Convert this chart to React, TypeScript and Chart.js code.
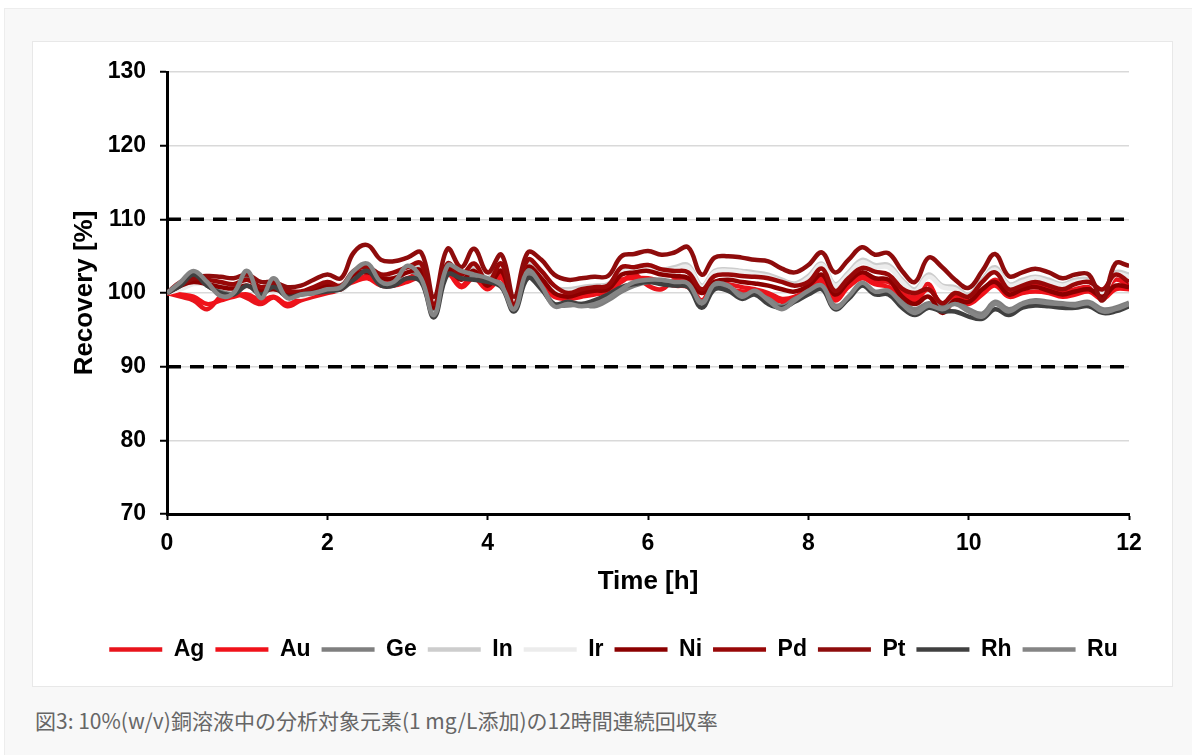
import React, { useEffect, useRef } from "react";
import { Chart, registerables } from "chart.js";

Chart.register(...registerables);

const times = [
  0, 0.17, 0.33, 0.5, 0.67, 0.83,
  1, 1.17, 1.33, 1.5, 1.67, 1.83,
  2, 2.17, 2.33, 2.5, 2.67, 2.83,
  3, 3.17, 3.33, 3.5, 3.67, 3.83,
  4, 4.17, 4.33, 4.5, 4.67, 4.83,
  5, 5.17, 5.33, 5.5, 5.67, 5.83,
  6, 6.17, 6.33, 6.5, 6.67, 6.83,
  7, 7.17, 7.33, 7.5, 7.67, 7.83,
  8, 8.17, 8.33, 8.5, 8.67, 8.83,
  9, 9.17, 9.33, 9.5, 9.67, 9.83,
  10, 10.17, 10.33, 10.5, 10.67, 10.83,
  11, 11.17, 11.33, 11.5, 11.67, 11.83,
  12,
];

const ag = [
  100, 99.5, 99, 97.8, 99.5, 100,
  99.3, 98.5, 99.4, 98.2, 99, 99.5,
  100, 100.5, 102, 102.5, 101.5, 101.5,
  102, 102.5, 98.5, 102.8, 101, 102.5,
  101, 102.5, 98.2, 103, 101.5, 100,
  99.5, 99.8, 100, 100.3, 101.5, 102.5,
  101, 100.5, 101.8, 101.5, 99, 101.5,
  101.2, 100.8, 100.5, 100, 99.2, 99.5,
  100.5, 102, 99.5, 101.2, 102.5, 101.5,
  101.5, 100, 99.5, 101.2, 97.8, 99.5,
  99, 100.2, 101.8, 100.2, 100.5, 101,
  100.5, 100, 100.5, 100.8, 100, 101.8,
  101,
];
const au = [
  100, 99.8, 99.5, 98.5, 99, 99.5,
  99.8, 99, 99.5, 98.5, 99.3, 99.8,
  100.3, 100.8, 101.5, 102, 101, 101,
  101.5, 102, 99, 102.5, 100.8, 102,
  100.5, 102, 98.5, 102.5, 101, 99.5,
  99.2, 99.5, 99.8, 100.2, 101.8, 102,
  102, 101.5, 101, 100.8, 98.8, 100.8,
  100.5, 100.2, 100, 99.5, 98.8, 99,
  100, 101.5, 99, 100.8, 102, 101.2,
  100.8, 99.5, 99, 100.5, 98.5, 99.2,
  98.5, 99.8, 101, 99.5, 100, 100.2,
  100, 99.5, 99.8, 100.2, 99.2, 100.5,
  100.5,
];
const ge = [
  100, 101.2, 102.5, 101, 100.2, 100.3,
  102, 99.8, 101.2, 99.8, 100, 100.2,
  100.8, 101, 102.3, 103.3, 101.2, 101.2,
  103, 101.8, 97.8, 103, 102.5, 102.2,
  101.8, 101.2, 98, 102.5, 100.8, 98.5,
  98.3, 98.5, 98.2, 99, 100.2, 101,
  101.5, 101.5, 101.2, 101, 98.8, 100.8,
  100.8, 99.8, 100, 99.2, 98.2, 99.2,
  100, 100.8, 98.3, 99.2, 101, 100,
  100, 98.8, 97.8, 98.6, 98.2, 98.8,
  97.8, 97.2, 98.8, 97.8, 98.6, 99,
  98.8, 98.6, 98.5, 98.8, 97.8, 98,
  98.7,
];
const inn = [
  100, 100.8, 101.5, 101.5, 101, 100.8,
  101.5, 100.5, 100.8, 100, 99.8, 100.3,
  100.8, 100.5, 102.5, 103.5, 102.5, 102.5,
  103.5, 103.5, 98.5, 104, 102.5, 103.5,
  102, 103.5, 98.8, 104, 102.5, 100.8,
  100.5, 100.8, 101, 101.2, 103, 103.5,
  103.8, 103.2, 103.5, 103.8, 101, 103,
  103.2, 103, 102.8, 102.5, 101.8, 101.3,
  102.3, 104, 101.2, 102.8, 104.5, 103.8,
  103.8, 101.8, 100.5, 102.5, 101, 100.8,
  99.8, 101.8, 103.5, 101.2, 101.8, 102.2,
  101.8, 101.2, 101.8, 101.8, 100.2, 102.8,
  102.5,
];
const ir = [
  100, 100.5, 101.2, 101.2, 100.8, 100.5,
  101.2, 100.2, 100.5, 99.8, 99.5, 100,
  100.5, 100.3, 102, 103, 102.2, 102.2,
  103, 103, 98.8, 103.5, 102.2, 103,
  101.8, 103.2, 99, 103.5, 102.2, 100.5,
  100.2, 100.5, 100.8, 101, 102.8, 103,
  103.5, 103, 103.2, 103.5, 100.8, 102.8,
  103, 102.8, 102.5, 102.2, 101.5, 101,
  102, 103.8, 101, 102.5, 104.2, 103.5,
  103.5, 101.5, 100.2, 102.2, 100.8, 100.5,
  99.5, 101.5, 103.2, 101, 101.5, 102,
  101.5, 101, 101.5, 101.5, 100, 102.5,
  102.2,
];
const ni = [
  100, 101, 101.5, 101.2, 100.8, 100.6,
  101, 100.3, 100.5, 100, 100, 100.5,
  101, 100.5, 102.5, 102.8, 102, 102,
  102.8, 103, 98, 103.2, 101.8, 103,
  101, 103, 98.2, 103.5, 102, 100,
  99.5, 100, 100.3, 100.5, 102.5, 102.8,
  103, 102.5, 102.3, 102, 100, 101.5,
  101.8, 101.5, 101.3, 101, 100.5, 100.2,
  101, 102.5, 99.8, 101.5, 102.8, 102,
  101.8, 99.5, 98.5, 99.5, 97.3, 99,
  98.8, 100.5, 101.5, 99.8, 100.5, 100.8,
  100.3, 99.8, 100.2, 100.5, 99.5, 101,
  100.8,
];
const pd = [
  100, 101.5, 102, 101.8, 101.5, 101.2,
  101.8, 100.8, 101, 100.3, 100.2, 100.8,
  101.5, 101, 103, 103.5, 102.5, 102.8,
  103.5, 104, 98.5, 104, 102.5, 104,
  101.5, 104, 98.5, 104.5, 103, 101,
  100, 100.5, 100.8, 101, 103.5, 103.5,
  103.8, 103.2, 103, 102.8, 100.5, 102.3,
  102.5, 102.3, 102.2, 102, 101.5, 101,
  101.5, 103.3, 100.3, 102, 103.4, 102.9,
  102.5, 100.6, 100, 100.5, 98.6, 100,
  99.5, 101.5, 102.8, 100.5, 101, 101.5,
  101, 100.5, 101.2, 101.5, 100.5, 102.5,
  101.5,
];
const pt = [
  100, 101, 102, 102.3, 102.2, 102,
  102.5, 101.5, 101.5, 100.8, 101, 101.8,
  102.5, 102, 105.5, 106.5, 104.5, 104.3,
  104.8, 105.5, 99.5, 106, 103.5, 106,
  102.8, 105.2, 99.5, 105.5, 104.5, 102.5,
  101.8, 102, 102.2, 102.3, 105, 105.3,
  105.7, 105.2, 105.5, 106.2, 102.5, 104.8,
  105, 104.8, 104.5, 104.3, 103.3, 102.8,
  103.8, 105.5, 102.8, 104.5, 106.2, 105.2,
  105.4, 103, 101.5, 104.8, 103.5, 101.8,
  100.7, 103, 105.3, 102.3, 102.8, 103.3,
  102.8, 102, 102.5, 102.5, 99, 104,
  103.7,
];
const rh = [
  100, 101, 102.5, 101, 100, 99.8,
  101, 99.8, 100.8, 99.5, 99.8, 100,
  100.2, 100.5, 101.8, 103, 101, 101,
  102, 101.5, 96.7, 102.5, 102, 101.8,
  101.5, 100.8, 97.5, 102, 100.5, 98.5,
  98.8, 98.5, 99, 99.8, 100.8, 101.2,
  101.5, 101.2, 101, 100.8, 98, 100.5,
  100.3, 99.2, 99.8, 98.5, 98, 98.8,
  99.8, 100.5, 97.8, 99.2, 101, 99.8,
  99.8, 98, 97, 98, 97.5, 97.5,
  96.8, 96.5, 97.8, 97, 98, 98.3,
  98.2, 98, 98, 98.2, 97.3, 97.5,
  98.2,
];
const ru = [
  100, 101.5, 103, 101.5, 99.6, 100,
  103, 99.3, 102, 99.3, 99.8, 100,
  100.5, 100.8, 103, 104, 101.5, 101.5,
  103.7, 102, 97, 103.7, 103, 102.5,
  102, 101, 97.8, 103, 101, 98.2,
  98.5, 98.2, 98.5, 99.3, 100.5, 101.5,
  101.8, 101.8, 101.5, 101.3, 98.6, 101.2,
  101, 99.5, 100.3, 99, 97.8, 99,
  100.3, 101, 98, 99.5, 101.4, 100.2,
  100.3, 98.5, 97.3, 98.3, 97.8, 98.5,
  97.5, 96.8, 98.5, 97.5, 98.5, 98.8,
  98.6, 98.5, 98.3, 98.6, 97.5, 97.8,
  98.5,
];

const limitTimes = [0, 12];
const upperLimit = [110, 110];
const lowerLimit = [90, 90];

const seriesNames = ["Ag", "Au", "Ge", "In", "Ir", "Ni", "Pd", "Pt", "Rh", "Ru"];
const seriesValues = [ag, au, ge, inn, ir, ni, pd, pt, rh, ru];
const seriesColors = [
  "#e8141c", "#f0121a", "#7f7f7f", "#cdcdcd", "#ececec",
  "#8b0000", "#980808", "#8e0c0c", "#404040", "#858585",
];

const yTicks = [70, 80, 90, 100, 110, 120, 130];
const xTicks = [0, 2, 4, 6, 8, 10, 12];

const caption = "図3: 10%(w/v)銅溶液中の分析対象元素(1 mg/L添加)の12時間連続回収率";

const FONT = "'Liberation Sans', Arial, sans-serif";

function ChartBox() {
  const ref = useRef<HTMLCanvasElement | null>(null);
  useEffect(() => {
    if (!ref.current) return;
    const datasets: any[] = seriesNames.map((name, k) => ({
      label: name,
      data: times.map((t, i) => ({ x: t, y: seriesValues[k][i] })),
      borderColor: seriesColors[k],
      backgroundColor: seriesColors[k],
      borderWidth: 4.5,
      pointRadius: 0,
      tension: 0.4,
      order: 9 - k,
    }));
    datasets.push({
      label: "limit110",
      data: limitTimes.map((t, i) => ({ x: t, y: upperLimit[i] })),
      borderColor: "#000",
      borderWidth: 3.5,
      borderDash: [14, 9],
      pointRadius: 0,
      order: 20,
    });
    datasets.push({
      label: "limit90",
      data: limitTimes.map((t, i) => ({ x: t, y: lowerLimit[i] })),
      borderColor: "#000",
      borderWidth: 3.5,
      borderDash: [14, 9],
      pointRadius: 0,
      order: 20,
    });
    const chart = new Chart(ref.current, {
      type: "line",
      data: { datasets },
      options: {
        animation: false,
        responsive: false,
        maintainAspectRatio: false,
        layout: { padding: { left: 65, right: 43, top: 30, bottom: 15 } },
        plugins: {
          tooltip: { enabled: false },
          legend: {
            position: "bottom",
            labels: {
              filter: (item: any) => item.datasetIndex < 10,
              sort: (a: any, b: any) => a.datasetIndex - b.datasetIndex,
              usePointStyle: true,
              pointStyle: "line",
              pointStyleWidth: 53,
              padding: 11,
              color: "#000",
              font: { family: FONT, size: 23, weight: "bold" },
            },
          },
        },
        scales: {
          x: {
            type: "linear",
            min: 0,
            max: 12,
            afterBuildTicks: (s: any) => {
              s.ticks = xTicks.map((v) => ({ value: v }));
            },
            afterFit: (s: any) => {
              s.height = 113;
            },
            ticks: {
              color: "#000",
              padding: 10,
              font: { family: FONT, size: 23, weight: "bold" },
            },
            grid: {
              drawOnChartArea: false,
              drawTicks: true,
              tickLength: 6,
              tickColor: "#000",
              tickWidth: 2,
            },
            border: { color: "#000", width: 3 },
            title: {
              display: true,
              text: "Time [h]",
              color: "#000",
              padding: { top: 0, bottom: 30 },
              font: { family: FONT, size: 26, weight: "bold" },
            },
          },
          y: {
            type: "linear",
            min: 70,
            max: 130,
            afterBuildTicks: (s: any) => {
              s.ticks = yTicks.map((v) => ({ value: v }));
            },
            afterFit: (s: any) => {
              s.width = 69;
            },
            ticks: {
              color: "#000",
              padding: 14,
              font: { family: FONT, size: 23, weight: "bold" },
            },
            grid: {
              color: "#d9d9d9",
              lineWidth: 1.5,
              drawTicks: true,
              tickLength: 7,
              tickColor: "#000",
              tickWidth: 2,
            },
            border: { color: "#000", width: 3 },
            title: {
              display: true,
              text: "Recovery [%]",
              color: "#000",
              padding: { top: -29, bottom: 0 },
              font: { family: FONT, size: 26, weight: "bold" },
            },
          },
        },
      },
    });
    return () => chart.destroy();
  }, []);
  return <canvas ref={ref} width={1139} height={644} style={{ display: "block", width: 1139, height: 644 }} />;
}

export default function App() {
  return (
    <div style={{ position: "absolute", left: 0, top: 0, width: 1192, height: 755, background: "#ffffff", overflow: "hidden" }}>
      <div
        style={{
          position: "absolute",
          left: 4,
          top: 8,
          width: 1188,
          height: 747,
          background: "#f8f8f8",
          borderTop: "1px solid #ededed",
          borderLeft: "1px solid #ededed",
        }}
      />
      <div
        style={{
          position: "absolute",
          left: 32,
          top: 41,
          width: 1139,
          height: 644,
          background: "#ffffff",
          border: "1px solid #e8e8e8",
        }}
      >
        <ChartBox />
      </div>
      <div
        style={{
          position: "absolute",
          left: 35,
          top: 706,
          fontFamily: "'Noto Sans CJK JP', 'Noto Sans', sans-serif",
          fontSize: 21,
          color: "#666666",
          whiteSpace: "nowrap",
          lineHeight: "28px",
        }}
      >
        {caption}
      </div>
    </div>
  );
}
